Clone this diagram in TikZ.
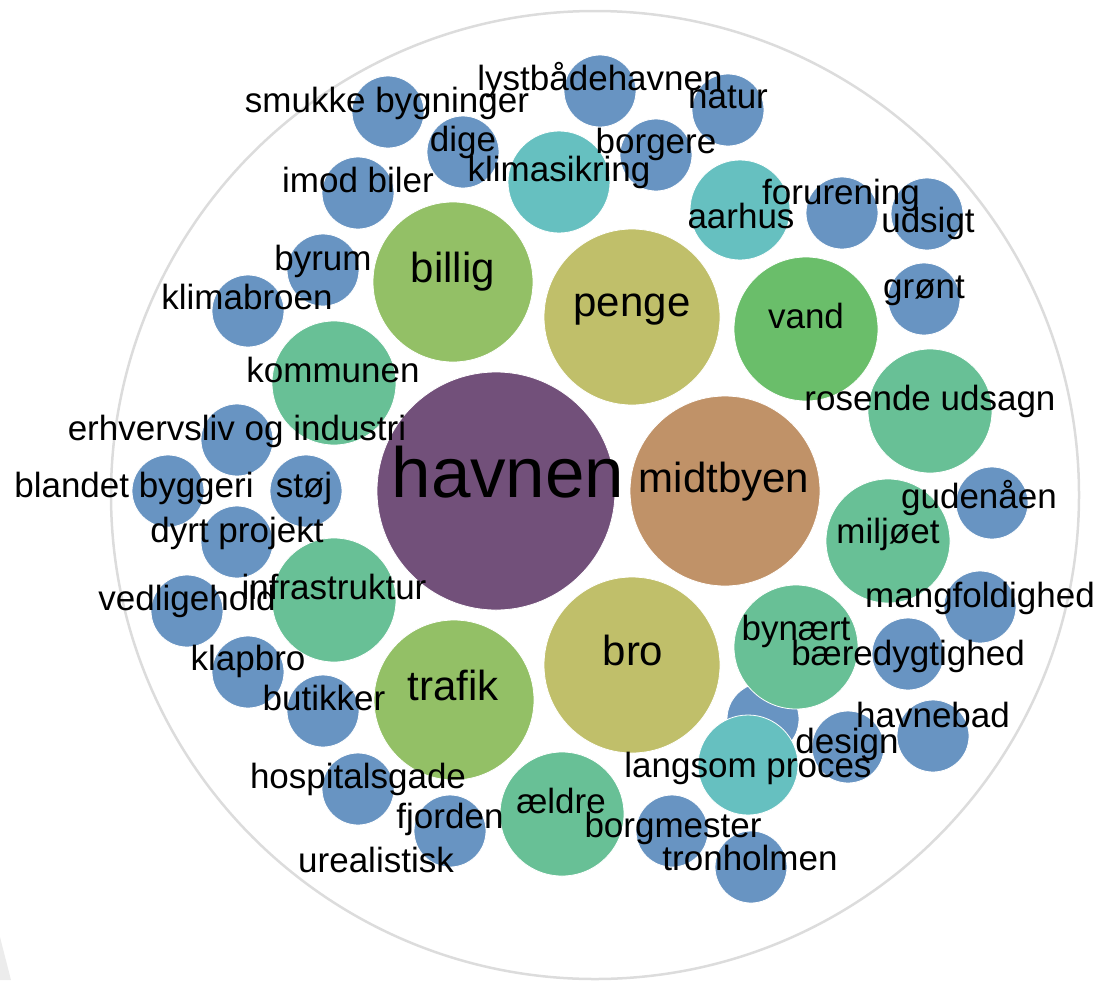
\documentclass[tikz,border=0pt]{standalone}
\usepackage{fontspec}
\setmainfont{Liberation Sans}
\definecolor{bpurple}{RGB}{114,80,122}
\definecolor{bbrown}{RGB}{192,146,104}
\definecolor{bolive}{RGB}{192,191,106}
\definecolor{blgreen}{RGB}{147,192,102}
\definecolor{bvgreen}{RGB}{106,190,106}
\definecolor{bsgreen}{RGB}{104,192,150}
\definecolor{bteal}{RGB}{102,192,192}
\definecolor{bblue}{RGB}{104,148,194}
\definecolor{ringgray}{RGB}{220,220,220}
\definecolor{cornergray}{RGB}{236,236,236}

\begin{document}
\begin{tikzpicture}[x=1pt,y=-1pt]
   \tikzset{bubble/.style={circle, draw=white, line width=0.8pt, inner sep=0pt, minimum size=#1}}
   \tikzset{small/.style={bubble=72, fill=bblue}}
   \tikzset{word/.style={anchor=base, inner sep=0pt, font=\fontsize{35}{40}\selectfont}}
   \tikzset{bigword/.style={word, font=\fontsize{42}{48}\selectfont}}
   \tikzset{hugeword/.style={word, font=\fontsize{71}{80}\selectfont}}
   \useasboundingbox (0,0) rectangle (1094,980);
   \fill[cornergray] (0,937) -- (11,980) -- (0,980) -- cycle;
   \node[circle, draw=ringgray, line width=2.5pt, minimum size=968, inner sep=0pt] (ring) at (595,495) {};
   \node[small] (hidden) at (763,719) {};
   \node[bubble=238, fill=bpurple] (havnen) at (496,491) {};
   \node[bubble=190, fill=bbrown] (midtbyen) at (725,491) {};
   \node[bubble=176, fill=bolive] (penge) at (632,317) {};
   \node[bubble=176, fill=bolive] (bro) at (632,665) {};
   \node[bubble=160, fill=blgreen] (billig) at (453,282) {};
   \node[bubble=160, fill=blgreen] (trafik) at (454,700) {};
   \node[bubble=144, fill=bvgreen] (vand) at (806,329) {};
   \node[bubble=124, fill=bsgreen] (kommunen) at (334,383) {};
   \node[bubble=124, fill=bsgreen] (infra) at (334,600) {};
   \node[bubble=124, fill=bsgreen] (rosende) at (930,411) {};
   \node[bubble=124, fill=bsgreen] (miljoet) at (888,541) {};
   \node[bubble=124, fill=bsgreen] (bynaert) at (796,647) {};
   \node[bubble=124, fill=bsgreen] (aeldre) at (562,814) {};
   \node[bubble=102, fill=bteal] (klimasikring) at (559,182) {};
   \node[bubble=100, fill=bteal] (aarhus) at (740,210) {};
   \node[bubble=100, fill=bteal] (langsom) at (748,765) {};
   \node[small] (smukke) at (388,112) {};
   \node[small] (dige) at (463,152) {};
   \node[small] (imod) at (358,193) {};
   \node[small] (byrum) at (323,270) {};
   \node[small] (klimabroen) at (248,311) {};
   \node[small] (erhverv) at (237,440) {};
   \node[small] (blandet) at (168,491) {};
   \node[small] (stoej) at (306,491) {};
   \node[small] (dyrt) at (237,542) {};
   \node[small] (vedlige) at (187,611) {};
   \node[small] (klapbro) at (248,672) {};
   \node[small] (butikker) at (323,711) {};
   \node[small] (hospital) at (358,789) {};
   \node[small] (fjorden) at (450,831) {};
   \node[small] (lystbaade) at (600,91) {};
   \node[small] (natur) at (728,110) {};
   \node[small] (borgere) at (656,155) {};
   \node[small] (forurening) at (842,213) {};
   \node[small] (udsigt) at (927,214) {};
   \node[small] (groent) at (924,299) {};
   \node[small] (gudenaa) at (992,503) {};
   \node[small] (mangfold) at (980,607) {};
   \node[small] (baeredygt) at (908,654) {};
   \node[small] (havnebad) at (933,736) {};
   \node[small] (design) at (848,747) {};
   \node[small] (borgmester) at (672,831) {};
   \node[small] (tronholmen) at (751,867) {};
   \node[hugeword] (t-havnen) at (508,497) {havnen};
   \node[bigword] (t-midtbyen) at (724,492) {midtbyen};
   \node[bigword] (t-penge) at (632,316) {penge};
   \node[bigword] (t-bro) at (633,665) {bro};
   \node[bigword] (t-billig) at (453,282) {billig};
   \node[bigword] (t-trafik) at (453,700) {trafik};
   \node[word] (t-vand) at (806,328) {vand};
   \node[word] (t-kommunen) at (333,382) {kommunen};
   \node[word] (t-infra) at (334,599) {infrastruktur};
   \node[word] (t-rosende) at (930,410) {rosende udsagn};
   \node[word] (t-miljoet) at (888,543) {miljøet};
   \node[word] (t-bynaert) at (796,640) {bynært};
   \node[word] (t-aeldre) at (561,813) {ældre};
   \node[word] (t-klimasikring) at (559,181) {klimasikring};
   \node[word] (t-aarhus) at (741,228) {aarhus};
   \node[word] (t-langsom) at (748,777) {langsom proces};
   \node[word] (t-smukke) at (387,112) {smukke bygninger};
   \node[word] (t-dige) at (463,151) {dige};
   \node[word] (t-imod) at (358,192) {imod biler};
   \node[word] (t-byrum) at (323,270) {byrum};
   \node[word] (t-klimabroen) at (247,309) {klimabroen};
   \node[word] (t-erhverv) at (237,440) {erhvervsliv og industri};
   \node[word] (t-blandet) at (134,497) {blandet byggeri};
   \node[word] (t-stoej) at (304,497) {støj};
   \node[word] (t-dyrt) at (237,542) {dyrt projekt};
   \node[word] (t-vedlige) at (187,610) {vedligehold};
   \node[word] (t-klapbro) at (248,670) {klapbro};
   \node[word] (t-butikker) at (324,710) {butikker};
   \node[word] (t-hospital) at (358,788) {hospitalsgade};
   \node[word] (t-fjorden) at (450,828) {fjorden};
   \node[word] (t-urealistisk) at (376,872) {urealistisk};
   \node[word] (t-lystbaade) at (600,90) {lystbådehavnen};
   \node[word] (t-natur) at (728,108) {natur};
   \node[word] (t-borgere) at (656,153) {borgere};
   \node[word] (t-forurening) at (841,204) {forurening};
   \node[word] (t-udsigt) at (928,232) {udsigt};
   \node[word] (t-groent) at (924,298) {grønt};
   \node[word] (t-gudenaa) at (979,508) {gudenåen};
   \node[word] (t-mangfold) at (980,607) {mangfoldighed};
   \node[word] (t-baeredygt) at (908,665) {bæredygtighed};
   \node[word] (t-havnebad) at (933,727) {havnebad};
   \node[word] (t-design) at (847,753) {design};
   \node[word] (t-borgmester) at (673,837) {borgmester};
   \node[word] (t-tronholmen) at (750,870) {tronholmen};
\end{tikzpicture}
\end{document}
